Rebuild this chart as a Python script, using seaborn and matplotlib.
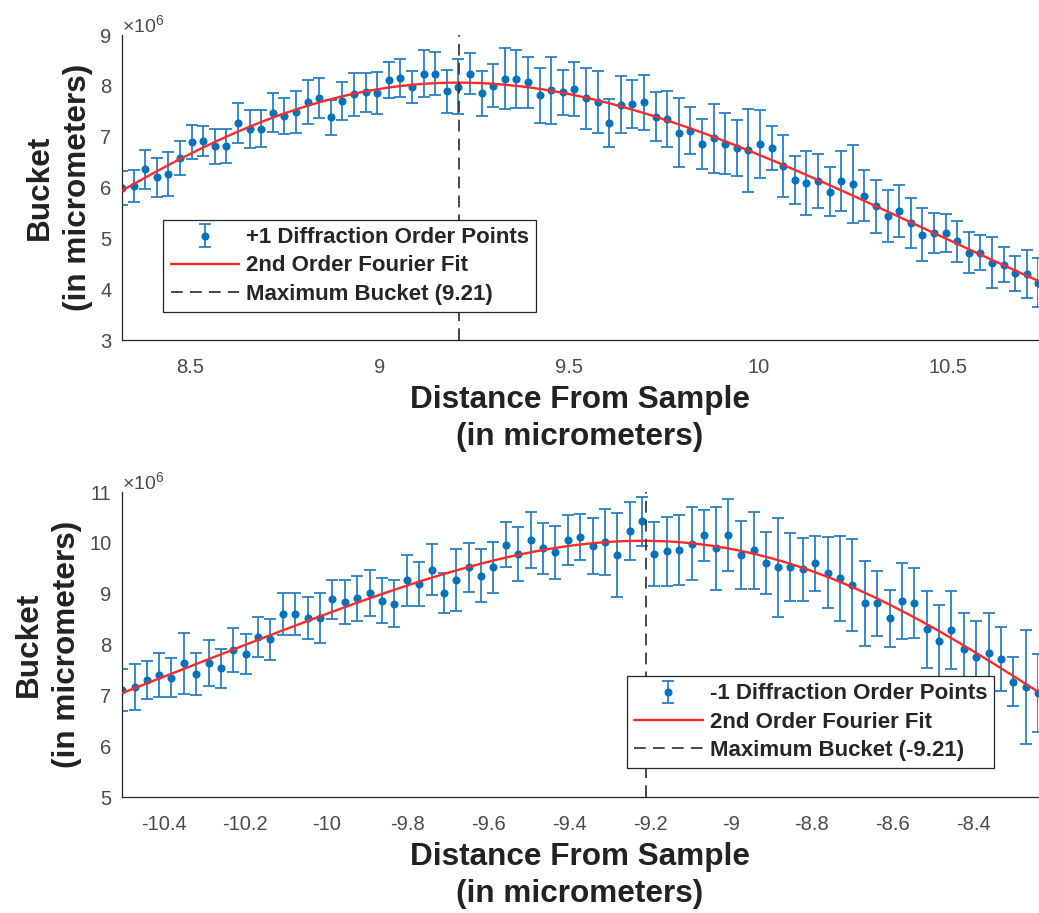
import numpy as np
import pandas as pd
import matplotlib
matplotlib.use("Agg")
import matplotlib.pyplot as plt
import seaborn as sns

# ---------------- data (values in units of 1e6) ----------------
x_top = [8.320, 8.351, 8.381, 8.412, 8.442, 8.473, 8.504, 8.534, 8.565, 8.595,
         8.626, 8.657, 8.687, 8.718, 8.748, 8.779, 8.810, 8.840, 8.871, 8.901,
         8.932, 8.963, 8.993, 9.024, 9.054, 9.085, 9.116, 9.146, 9.177, 9.207,
         9.238, 9.269, 9.299, 9.330, 9.360, 9.391, 9.422, 9.452, 9.483, 9.513,
         9.544, 9.575, 9.605, 9.636, 9.666, 9.697, 9.728, 9.758, 9.789, 9.819,
         9.850, 9.881, 9.911, 9.942, 9.972, 10.003, 10.034, 10.064, 10.095, 10.125,
         10.156, 10.187, 10.217, 10.248, 10.278, 10.309, 10.340, 10.370, 10.401, 10.431,
         10.462, 10.493, 10.523, 10.554, 10.584, 10.615, 10.646, 10.676, 10.707, 10.737]
y_top = [5.99, 6.03, 6.36, 6.20, 6.27, 6.58, 6.90, 6.91, 6.81, 6.82,
         7.27, 7.15, 7.16, 7.47, 7.41, 7.48, 7.68, 7.76, 7.38, 7.70,
         7.83, 7.87, 7.86, 8.11, 8.16, 7.98, 8.24, 8.24, 7.89, 7.98,
         8.24, 7.85, 8.00, 8.14, 8.14, 8.07, 7.81, 7.91, 7.87, 7.94,
         7.76, 7.68, 7.27, 7.63, 7.65, 7.68, 7.39, 7.35, 7.08, 7.12,
         6.86, 6.97, 6.86, 6.78, 6.73, 6.86, 6.78, 6.43, 6.14, 6.09,
         6.13, 5.92, 6.12, 6.07, 5.84, 5.63, 5.44, 5.53, 5.30, 5.07,
         5.10, 5.11, 4.94, 4.72, 4.72, 4.52, 4.48, 4.31, 4.30, 4.13]
err_top = [0.33, 0.32, 0.38, 0.39, 0.43, 0.34, 0.33, 0.30, 0.35, 0.34,
           0.40, 0.37, 0.37, 0.38, 0.36, 0.41, 0.43, 0.39, 0.35, 0.38,
           0.43, 0.39, 0.41, 0.35, 0.37, 0.31, 0.46, 0.43, 0.43, 0.54,
           0.41, 0.44, 0.42, 0.60, 0.57, 0.50, 0.55, 0.66, 0.45, 0.53,
           0.60, 0.61, 0.48, 0.56, 0.47, 0.54, 0.48, 0.55, 0.68, 0.47,
           0.49, 0.68, 0.60, 0.55, 0.82, 0.67, 0.43, 0.61, 0.47, 0.63,
           0.53, 0.48, 0.59, 0.77, 0.50, 0.52, 0.52, 0.51, 0.50, 0.52,
           0.39, 0.37, 0.40, 0.41, 0.35, 0.50, 0.34, 0.35, 0.48, 0.49]

x_bot = [-10.505, -10.474, -10.444, -10.413, -10.383, -10.352, -10.321, -10.291, -10.260, -10.230,
         -10.199, -10.168, -10.138, -10.107, -10.077, -10.046, -10.015, -9.985, -9.954, -9.924,
         -9.893, -9.862, -9.832, -9.801, -9.771, -9.740, -9.709, -9.679, -9.648, -9.618,
         -9.587, -9.556, -9.526, -9.495, -9.465, -9.434, -9.403, -9.373, -9.342, -9.312,
         -9.281, -9.250, -9.220, -9.189, -9.159, -9.128, -9.097, -9.067, -9.036, -9.006,
         -8.975, -8.944, -8.914, -8.883, -8.853, -8.822, -8.791, -8.761, -8.730, -8.700,
         -8.669, -8.638, -8.608, -8.577, -8.547, -8.516, -8.485, -8.455, -8.424, -8.394,
         -8.363, -8.332, -8.302, -8.271, -8.241]
y_bot = [7.10, 7.16, 7.30, 7.40, 7.35, 7.63, 7.42, 7.63, 7.53, 7.89,
         7.81, 8.15, 8.10, 8.60, 8.60, 8.52, 8.52, 8.89, 8.84, 8.91,
         9.01, 8.86, 8.80, 9.26, 9.19, 9.47, 9.01, 9.27, 9.52, 9.35,
         9.52, 9.96, 9.78, 10.06, 9.89, 9.81, 10.06, 10.12, 9.94, 10.02,
         9.76, 10.24, 10.42, 9.78, 9.83, 9.86, 9.98, 10.15, 9.89, 10.15,
         9.76, 9.85, 9.61, 9.52, 9.52, 9.48, 9.60, 9.41, 9.30, 9.17,
         8.81, 8.81, 8.52, 8.86, 8.81, 8.30, 8.07, 8.29, 7.91, 7.76,
         7.84, 7.71, 7.27, 7.16, 7.05]
err_bot = [0.41, 0.45, 0.38, 0.43, 0.38, 0.60, 0.41, 0.45, 0.39, 0.43,
           0.39, 0.40, 0.40, 0.41, 0.42, 0.42, 0.50, 0.38, 0.43, 0.44,
           0.45, 0.44, 0.46, 0.51, 0.44, 0.50, 0.39, 0.61, 0.48, 0.52,
           0.50, 0.44, 0.53, 0.55, 0.50, 0.53, 0.49, 0.45, 0.55, 0.65,
           0.82, 0.57, 0.49, 0.63, 0.67, 0.69, 0.72, 0.50, 0.81, 0.71,
           0.67, 0.76, 0.61, 0.97, 0.67, 0.62, 0.54, 0.70, 0.84, 0.90,
           0.83, 0.64, 0.56, 0.75, 0.69, 0.76, 0.70, 0.77, 0.70, 0.70,
           0.77, 0.63, 0.48, 1.12, 0.77]

max_top = 9.21
max_bot = -9.21

top_xticks = [8.5, 9, 9.5, 10, 10.5]
top_xticklabels = ["8.5", "9", "9.5", "10", "10.5"]
top_yticks = [3, 4, 5, 6, 7, 8, 9]
top_ylim = (3, 9)
bot_xticks = [-10.4, -10.2, -10, -9.8, -9.6, -9.4, -9.2, -9, -8.8, -8.6, -8.4]
bot_xticklabels = ["-10.4", "-10.2", "-10", "-9.8", "-9.6", "-9.4", "-9.2", "-9", "-8.8", "-8.6", "-8.4"]
bot_yticks = [5, 6, 7, 8, 9, 10, 11]
bot_ylim = (5, 11)

top_labels = ["+1 Diffraction Order Points", "2nd Order Fourier Fit", "Maximum Bucket (9.21)"]
bot_labels = ["-1 Diffraction Order Points", "2nd Order Fourier Fit", "Maximum Bucket (-9.21)"]
xlabel = "Distance From Sample\n(in micrometers)"
ylabel = "Bucket\n(in micrometers)"
offset_label = r"$\times10^{6}$"

# ---------------- style ----------------
sns.set_theme(style="white")
plt.rcParams["font.family"] = ["Liberation Sans", "DejaVu Sans"]
plt.rcParams["axes.unicode_minus"] = False
plt.rcParams["mathtext.fontset"] = "custom"
plt.rcParams["mathtext.rm"] = "Liberation Sans"
plt.rcParams["mathtext.it"] = "Liberation Sans:italic"
plt.rcParams["mathtext.bf"] = "Liberation Sans:bold"

BLUE = "#0072BD"
EBLUE = "#2a7fc4"
RED = "#FF2A2A"
AXC = "#262626"
TICKC = "#4a4a4a"


def fourier2_fit(x, y, n=600):
    x = np.asarray(x, float)
    y = np.asarray(y, float)
    xm = x.mean()
    xc = x - xm
    best = None
    for w in np.linspace(0.3, 2.2, 381):
        A = np.column_stack([np.ones_like(xc), np.cos(w * xc), np.sin(w * xc),
                             np.cos(2 * w * xc), np.sin(2 * w * xc)])
        coef, *_ = np.linalg.lstsq(A, y, rcond=None)
        r = np.sum((A @ coef - y) ** 2)
        if best is None or r < best[0]:
            best = (r, w, coef)
    _, w, c = best
    xs = np.linspace(x.min(), x.max(), n)
    t = xs - xm
    ys = c[0] + c[1] * np.cos(w * t) + c[2] * np.sin(w * t) + c[3] * np.cos(2 * w * t) + c[4] * np.sin(2 * w * t)
    return pd.DataFrame({"x": xs, "y": ys})


W, H = 1039, 913
fig = plt.figure(figsize=(W / 100, H / 100), dpi=100)
ax_top = fig.add_axes([122 / W, 1 - 340 / H, 916 / W, 305 / H])
ax_bot = fig.add_axes([122 / W, 1 - 797 / H, 916 / W, 305 / H])


def draw(ax, x, y, err, xmax_line, labels, xticks, xticklabels, yticks, ylim, legend_anchor):
    eb = ax.errorbar(x, y, yerr=err, fmt="o", ms=4.8, color=BLUE, ecolor=EBLUE,
                     elinewidth=1.3, capsize=4.6, capthick=1.3, zorder=2)
    fit = fourier2_fit(x, y)
    sns.lineplot(data=fit, x="x", y="y", ax=ax, color=RED, lw=1.7, zorder=3)
    handle_fit = ax.lines[-1]
    vl = ax.axvline(xmax_line, color="#3a3a3a", lw=1.3, dashes=(6.5, 4), zorder=4)
    ax.set_xlim(x[0], x[-1])
    ax.set_ylim(*ylim)
    ax.set_xticks(xticks)
    ax.set_xticklabels(xticklabels)
    ax.set_yticks(yticks)
    ax.set_yticklabels([str(v) for v in yticks])
    ax.tick_params(axis="both", direction="in", length=6, width=0.8, color=AXC,
                   labelcolor=TICKC, labelsize=14.5)
    ax.tick_params(axis="x", pad=13)
    ax.tick_params(axis="y", pad=7.5)
    for s in ["top", "right"]:
        ax.spines[s].set_visible(False)
    for s in ["left", "bottom"]:
        ax.spines[s].set_color(AXC)
        ax.spines[s].set_linewidth(0.9)
    ax.set_xlabel(xlabel, fontsize=22.7, fontweight="bold", color="#222222",
                  labelpad=6, linespacing=1.28)
    ax.set_ylabel(ylabel, fontsize=22.7, fontweight="bold", color="#222222",
                  labelpad=5, linespacing=1.38)
    ax.text(0.0, 1.010, offset_label, transform=ax.transAxes, ha="left", va="baseline",
            fontsize=14, color=TICKC)
    leg = ax.legend([eb, handle_fit, vl], labels, loc="lower left", bbox_to_anchor=legend_anchor,
                    prop={"weight": "bold", "size": 16}, frameon=True, fancybox=False,
                    edgecolor=AXC, framealpha=1.0, handlelength=3.1, handletextpad=0.3,
                    labelspacing=0.32, borderpad=0.33, borderaxespad=0)
    leg.get_frame().set_linewidth(0.9)
    leg.set_zorder(10)


draw(ax_top, x_top, y_top, err_top, max_top, top_labels, top_xticks, top_xticklabels,
     top_yticks, top_ylim, (0.045, 0.092))
draw(ax_bot, x_bot, y_bot, err_bot, max_bot, bot_labels, bot_xticks, bot_xticklabels,
     bot_yticks, bot_ylim, (0.551, 0.095))

fig.savefig("out.png", dpi=100)
